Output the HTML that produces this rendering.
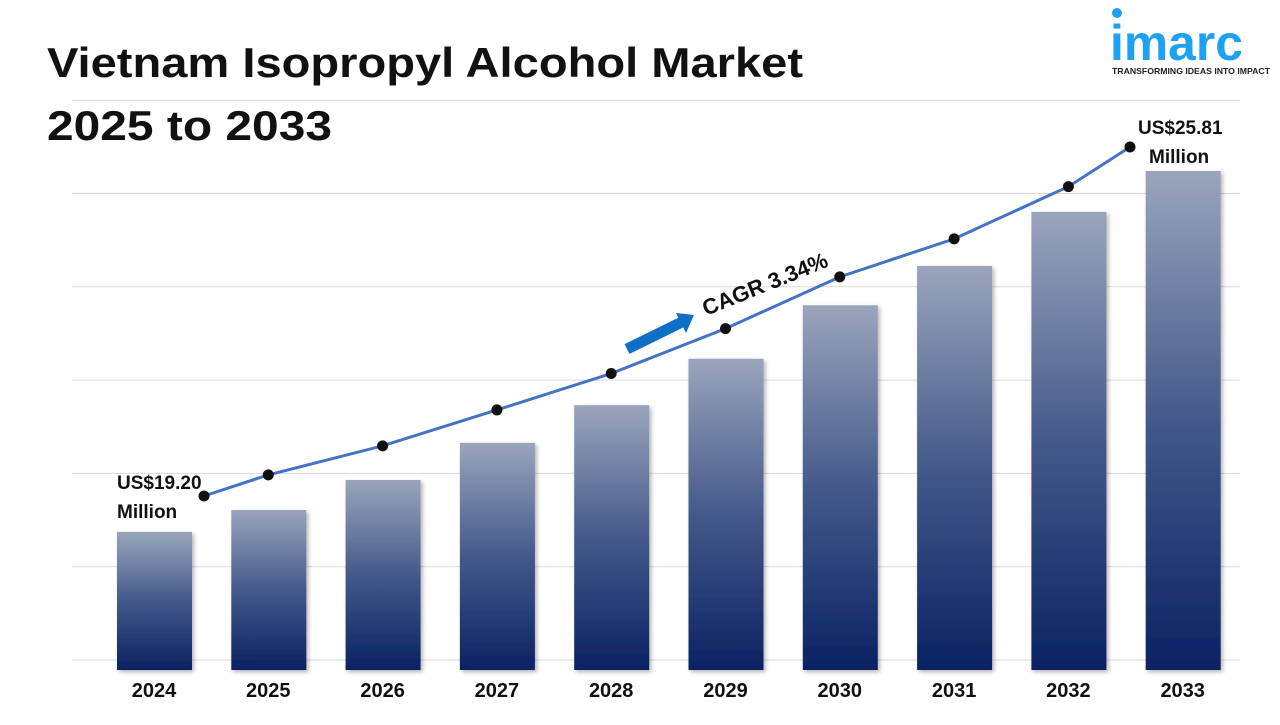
<!DOCTYPE html>
<html><head><meta charset="utf-8"><style>
body{margin:0;width:1280px;height:720px;background:#fff;overflow:hidden;font-family:"Liberation Sans",sans-serif}
</style></head><body>
<svg width="1280" height="720" font-family="Liberation Sans, sans-serif">
<defs><linearGradient id="g" x1="0" y1="0" x2="0" y2="1"><stop offset="0" stop-color="#9aa5bc"/><stop offset="0.5" stop-color="#44598a"/><stop offset="1" stop-color="#0a2263"/></linearGradient>
<filter id="sh" x="-10%" y="-10%" width="130%" height="130%"><feDropShadow dx="2" dy="2" stdDeviation="2" flood-opacity="0.3"/></filter></defs>
<text x="47" y="77" font-size="42" font-weight="bold" fill="#111" textLength="756" lengthAdjust="spacingAndGlyphs">Vietnam Isopropyl Alcohol Market</text>
<text x="47" y="140" font-size="42" font-weight="bold" fill="#111" textLength="285" lengthAdjust="spacingAndGlyphs">2025 to 2033</text>
<g>
<circle cx="1117" cy="13" r="5" fill="#1da1f2"/>
<text x="1110" y="60" font-size="50" font-weight="bold" fill="#1da1f2" textLength="133" lengthAdjust="spacingAndGlyphs">imarc</text>
<text x="1112" y="74" font-size="8.5" font-weight="bold" fill="#222" textLength="158" lengthAdjust="spacingAndGlyphs">TRANSFORMING IDEAS INTO IMPACT</text>
</g>
<g id="grid"></g><g id="bars"></g><g id="line"></g><g id="labels"></g>
<g>
<line x1="627" y1="349" x2="682" y2="322" stroke="#0f6fc6" stroke-width="11"/>
<polygon points="694,315 676,313 686,333" fill="#0f6fc6"/>
<text x="0" y="0" font-size="22" font-weight="bold" fill="#111" transform="translate(706,316) rotate(-22)">CAGR 3.34%</text>
</g>
<text x="117" y="489" font-size="19" font-weight="bold" fill="#111">US$19.20</text>
<text x="117" y="518" font-size="19" font-weight="bold" fill="#111">Million</text>
<text x="1138" y="134" font-size="19" font-weight="bold" fill="#111">US$25.81</text>
<text x="1149" y="163" font-size="19" font-weight="bold" fill="#111">Million</text>
</svg>
<script>
const years=['2024','2025','2026','2027','2028','2029','2030','2031','2032','2033'];
const values=[19.20,19.60,20.15,20.83,21.52,22.37,23.35,24.07,25.06,25.81];
const gridTicks=[0,1,2,3,4,5,6];
const NS='http://www.w3.org/2000/svg';
function mk(t,a,p){const e=document.createElementNS(NS,t);for(const k in a)e.setAttribute(k,a[k]);p.appendChild(e);return e;}
const x=i=>154+i*114.3;
const base=670;
const barY=v=>base-(v-16.67)*54.6;
const lineY=v=>496-(v-19.2)*52.8;
const gridY=t=>660-t*93.3;
const G=document.getElementById('grid'),B=document.getElementById('bars'),L=document.getElementById('line'),T=document.getElementById('labels');
gridTicks.forEach(t=>{const l=mk('line',{x1:72,x2:1240,y1:gridY(t),y2:gridY(t),stroke:'#d9d9d9','stroke-width':1},G);

});
values.forEach((v,i)=>{const y=barY(v);const r=mk('rect',{x:x(i)-37,y:y,width:75,height:base-y,fill:'url(#g)',filter:'url(#sh)'},B);


const t=mk('text',{x:x(i),y:697,'text-anchor':'middle','font-size':20,'font-weight':'bold',fill:'#111'},T);t.textContent=years[i];

});
const lx=i=>i==0?204:(i==values.length-1?1130:x(i));
const pts=values.map((v,i)=>lx(i)+','+lineY(v)).join(' ');
const pl=mk('polyline',{points:pts,fill:'none',stroke:'#4472c4','stroke-width':3},L);


values.forEach((v,i)=>{const c=mk('circle',{cx:lx(i),cy:lineY(v),r:5.5,fill:'#111'},L);

});
</script>
</body></html>
